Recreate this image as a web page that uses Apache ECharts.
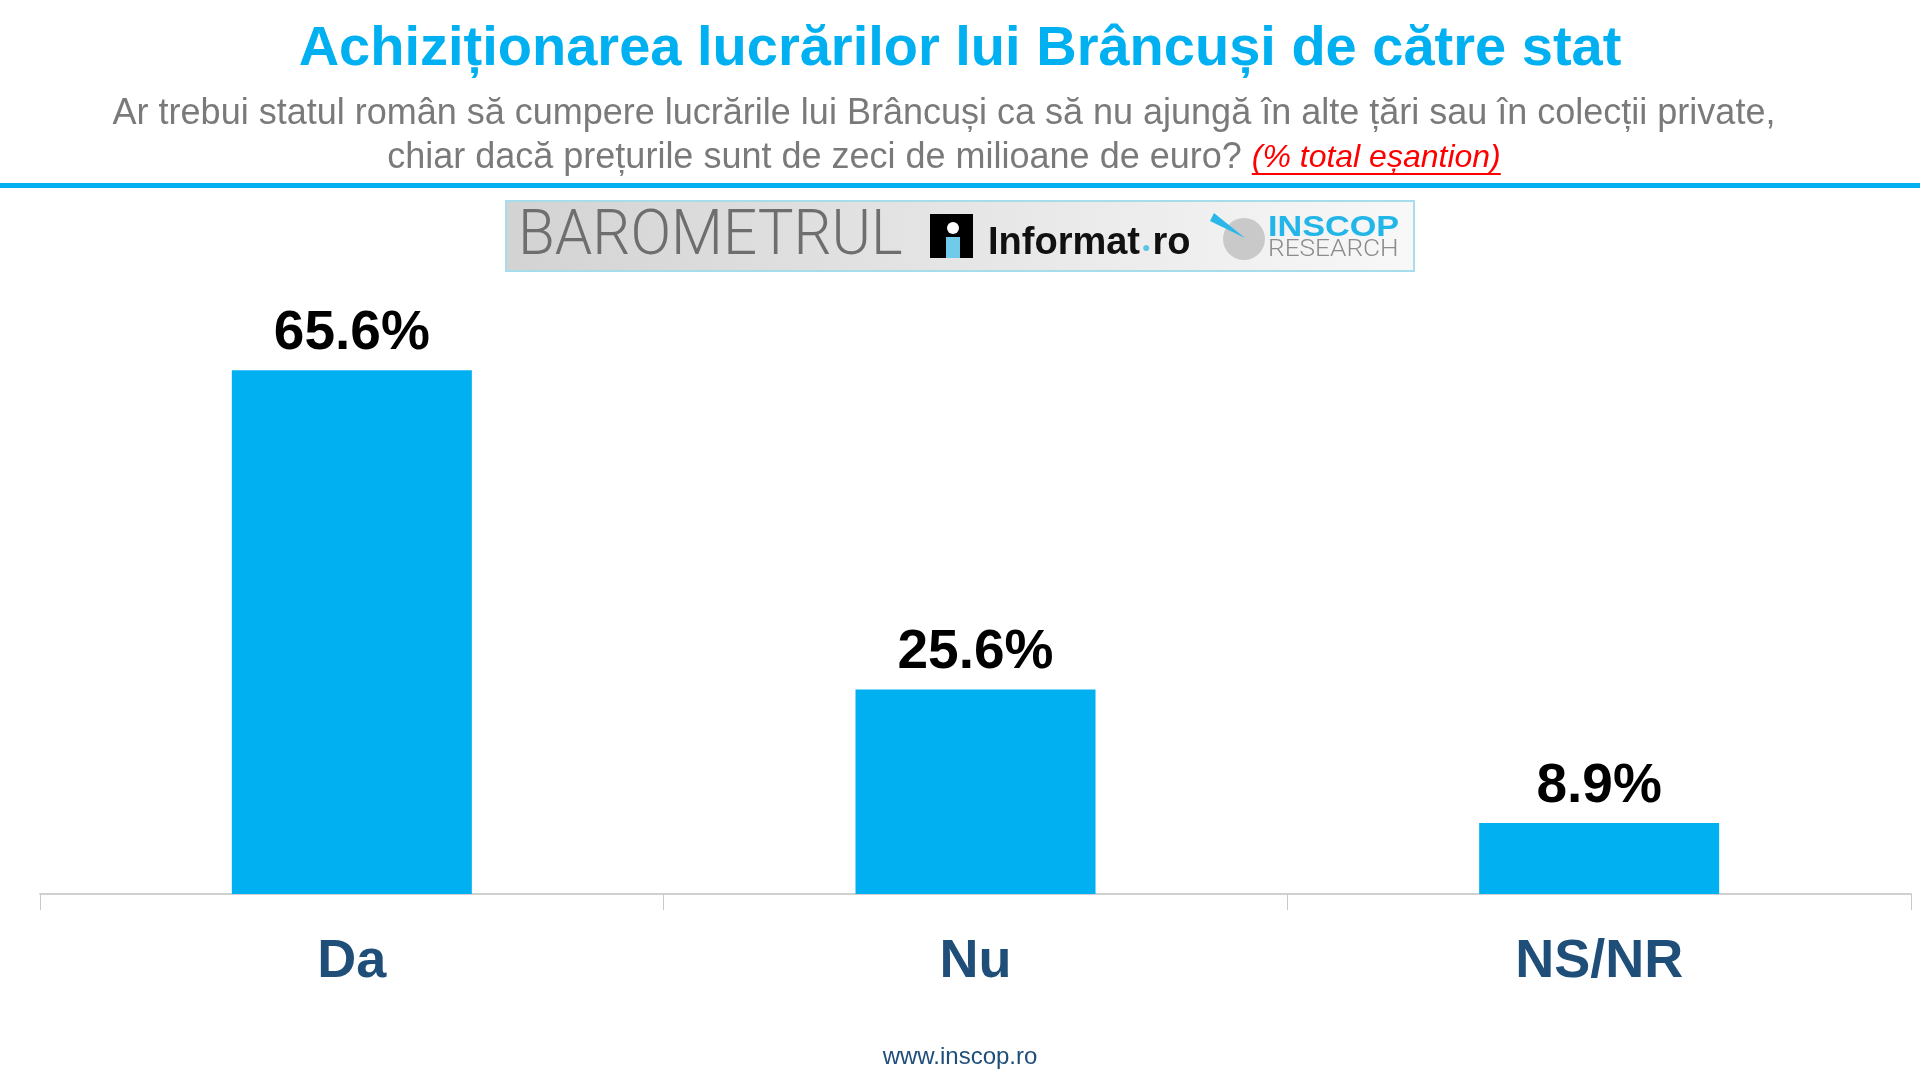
<!DOCTYPE html>
<html>
<head>
<meta charset="utf-8">
<title>Achiziționarea lucrărilor lui Brâncuși de către stat</title>
<script src="https://cdn.jsdelivr.net/npm/echarts@6/dist/echarts.min.js"></script>
<style>
    html, body { margin: 0; padding: 0; background: #ffffff; }
    #chart { width: 1920px; height: 1080px; }
</style>
</head>
<body>
<div id="chart"></div>
<script>
const categories = ['Da', 'Nu', 'NS/NR'];
const values = [65.6, 25.6, 8.9];

const titleText = 'Achiziționarea lucrărilor lui Brâncuși de către stat';
const questionLine1 = 'Ar trebui statul român să cumpere lucrările lui Brâncuși ca să nu ajungă în alte țări sau în colecții private,';
const questionLine2 = 'chiar dacă prețurile sunt de zeci de milioane de euro? ';
const sampleNote = '(% total eșantion)';
const footerText = 'www.inscop.ro';

const FONT = 'Arial, "Liberation Sans", sans-serif';
const BLUE = '#00b0f0';
const DARK_BLUE = '#1f4e79';

document.addEventListener('DOMContentLoaded', function() {
    initChart();
});

// measure text so the red note can get its underline
function textWidth(text, font) {
    const ctx = document.createElement('canvas').getContext('2d');
    ctx.font = font;
    return ctx.measureText(text).width;
}

function buildHeader() {
    const subSize = 36;
    const noteSize = 32;
    const subCenter = 944;   // the question block sits a bit left of the page centre
    const w1 = textWidth(questionLine2, subSize + 'px ' + FONT);
    const w2 = textWidth(sampleNote, 'italic ' + noteSize + 'px ' + FONT);
    const startX = subCenter - (w1 + w2) / 2;

    return [
        {
            type: 'text',
            style: {
                text: titleText, x: 960, y: 50,
                textAlign: 'center', textVerticalAlign: 'middle',
                font: 'bold 56px ' + FONT, fill: BLUE
            }
        },
        {
            type: 'text',
            style: {
                text: questionLine1, x: subCenter, y: 114,
                textAlign: 'center', textVerticalAlign: 'middle',
                font: subSize + 'px ' + FONT, fill: '#7a7a7a'
            }
        },
        {
            type: 'text',
            style: {
                text: '{q|' + questionLine2 + '}{n|' + sampleNote + '}',
                x: startX, y: 158,
                textAlign: 'left', textVerticalAlign: 'middle',
                rich: {
                    q: { font: subSize + 'px ' + FONT, fill: '#7a7a7a', color: '#7a7a7a' },
                    n: { font: 'italic ' + noteSize + 'px ' + FONT, fill: '#ff0000', color: '#ff0000' }
                }
            }
        },
        {
            type: 'line',
            shape: { x1: startX + w1, y1: 174, x2: startX + w1 + w2, y2: 174 },
            style: { stroke: '#ff0000', lineWidth: 2 }
        },
        {
            type: 'rect',
            shape: { x: 0, y: 183, width: 1920, height: 5 },
            style: { fill: BLUE }
        }
    ];
}

function buildLogo() {
    return [
        {
            type: 'rect',
            shape: { x: 506, y: 201, width: 908, height: 70 },
            style: {
                fill: new echarts.graphic.LinearGradient(0, 0, 1, 0, [
                    { offset: 0, color: '#d3d3d3' },
                    { offset: 1, color: '#f8f8f8' }
                ]),
                stroke: '#a6dcec', lineWidth: 2
            }
        },
        {
            type: 'text',
            x: 518, y: 238,
            scaleY: 1.06,
            style: {
                text: 'BAROMETRUL', x: 0, y: 0,
                textAlign: 'left', textVerticalAlign: 'middle',
                font: '300 60px Roboto, "Open Sans", sans-serif', fill: '#6e6e6e'
            }
        },
        {
            type: 'rect',
            shape: { x: 930, y: 214, width: 43, height: 44 },
            style: { fill: '#000000' }
        },
        {
            type: 'circle',
            shape: { cx: 953, cy: 228, r: 6 },
            style: { fill: '#ffffff' }
        },
        {
            type: 'rect',
            shape: { x: 946, y: 237, width: 14, height: 21 },
            style: { fill: '#6fcbe9' }
        },
        {
            type: 'text',
            style: {
                text: '{a|Informat}{d|●}{a|ro}', x: 988, y: 244,
                textAlign: 'left', textVerticalAlign: 'middle',
                rich: {
                    a: { font: 'bold 38px ' + FONT, fill: '#111111', color: '#111111' },
                    d: { font: 'bold 14px ' + FONT, fill: '#5bc5e5', color: '#5bc5e5', padding: [8, 2, 0, 2] }
                }
            }
        },
        {
            type: 'circle',
            shape: { cx: 1244, cy: 239, r: 21 },
            style: { fill: '#c9c9c9' }
        },
        {
            type: 'polygon',
            shape: { points: [[1214, 213], [1210, 221], [1245, 238]] },
            style: { fill: '#2bb7e8' }
        },
        {
            type: 'text',
            x: 1268, y: 228,
            scaleX: 1.14,
            style: {
                text: 'INSCOP', x: 0, y: 0,
                textAlign: 'left', textVerticalAlign: 'middle',
                font: 'bold 30px ' + FONT, fill: '#22b5e8'
            }
        },
        {
            type: 'text',
            x: 1268, y: 250,
            scaleX: 1.14,
            style: {
                text: 'RESEARCH', x: 0, y: 0,
                textAlign: 'left', textVerticalAlign: 'middle',
                font: '300 23px Roboto, "Open Sans", sans-serif', fill: '#8c8c8c'
            }
        }
    ];
}

function initChart() {
    const chart = echarts.init(document.getElementById('chart'), null, { renderer: 'canvas' });

    const option = {
        backgroundColor: '#ffffff',
        animation: false,
        grid: {
            left: 40,
            right: 9,
            top: 335,
            bottom: 186,
            containLabel: false
        },
        xAxis: {
            type: 'category',
            data: categories,
            axisLine: { show: true, lineStyle: { color: '#d0d0d0', width: 2 } },
            axisTick: { show: true, length: 16, lineStyle: { color: '#c8c8c8', width: 1 } },
            axisLabel: {
                margin: 40,
                color: DARK_BLUE,
                fontFamily: FONT,
                fontWeight: 'bold',
                fontSize: 54,
                lineHeight: 56
            }
        },
        yAxis: {
            type: 'value',
            min: 0,
            max: 70,
            show: false,
            splitLine: { show: false }
        },
        series: [
            {
                type: 'bar',
                data: values,
                barWidth: 240,
                itemStyle: { color: BLUE },
                label: {
                    show: true,
                    position: 'top',
                    distance: 9,
                    color: '#000000',
                    fontFamily: FONT,
                    fontWeight: 'bold',
                    fontSize: 55,
                    formatter: function(p) {
                        return p.value.toFixed(1) + '%';
                    }
                }
            }
        ],
        graphic: buildHeader().concat(buildLogo()).concat([
            {
                type: 'text',
                style: {
                    text: footerText, x: 960, y: 1057,
                    textAlign: 'center', textVerticalAlign: 'middle',
                    font: '24px ' + FONT, fill: DARK_BLUE
                }
            }
        ])
    };

    chart.setOption(option);

    window.addEventListener('resize', () => {
        chart.resize();
    });
}
</script>
</body>
</html>
